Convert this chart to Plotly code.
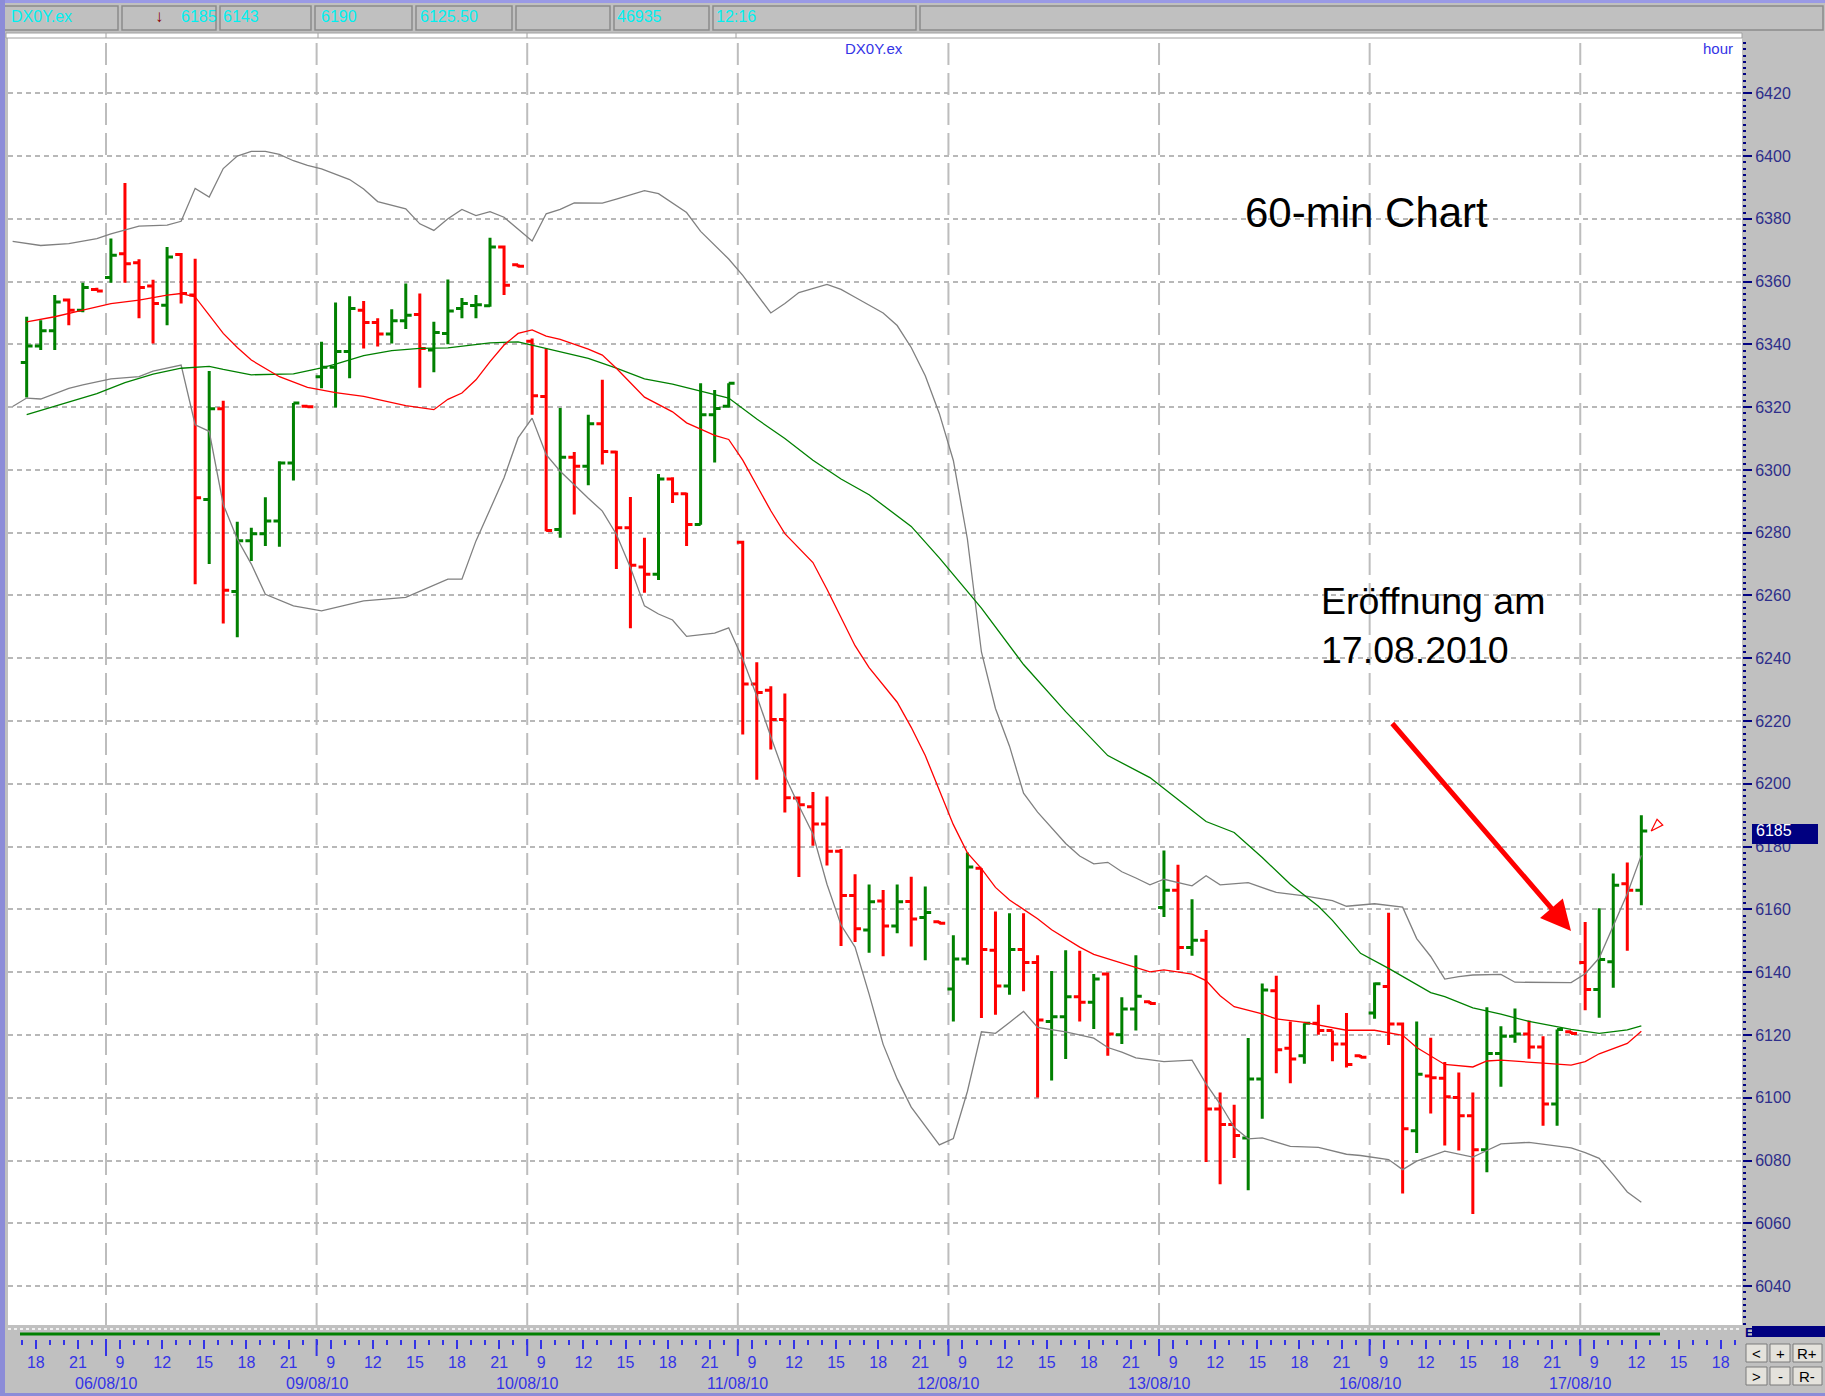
import plotly.graph_objects as go

# Hourly bars, index 0 = 05/08 17:00; each trading day holds 15 bars (8:00-22:00)
BAR_IDX = list(range(116))
OPEN = [6334.2, 6339.5, 6344.3, 6354.1, 6350.9, 6357.5, 6361.3, 6368.9, 6366.0, 6358.6,
        6352.5, 6368.6, 6355.7, 6290.6, 6319.5, 6261.3, 6277.4, 6279.7, 6283.7, 6302.2,
        6320.3, 6329.7, 6332.7, 6337.7, 6350.9, 6347.0, 6343.3, 6347.5, 6349.5, 6338.2,
        6343.5, 6351.4, 6352.4, 6352.3, 6371.0, 6365.4, 6341.0, 6323.4, 6281.0, 6304.0,
        6301.2, 6314.7, 6305.7, 6281.6, 6269.1, 6266.8, 6297.1, 6292.4, 6282.6, 6317.6,
        6320.3, 6277.0, 6231.8, 6229.8, 6220.5, 6195.5, 6192.7, 6187.2, 6178.5, 6164.4,
        6153.4, 6162.7, 6154.7, 6162.5, 6157.4, 6156.1, 6134.6, 6144.2, 6173.1, 6147.0,
        6135.6, 6147.2, 6143.1, 6124.3, 6125.8, 6132.2, 6130.4, 6139.4, 6120.1, 6128.3,
        6130.6, 6160.6, 6166.1, 6147.9, 6150.2, 6096.4, 6091.5, 6087.2, 6106.0, 6134.1,
        6115.8, 6113.4, 6123.7, 6121.4, 6117.1, 6113.4, 6127.0, 6135.4, 6123.5, 6089.5,
        6106.9, 6106.2, 6100.1, 6094.3, 6083.4, 6114.1, 6119.6, 6120.3, 6116.2, 6098.0,
        6121.0, 6143.1, 6134.5, 6143.3, 6168.2, 6166.1]
HIGH = [6348.8, 6347.7, 6355.7, 6354.6, 6359.6, 6358.0, 6373.7, 6391.4, 6367.1, 6360.6,
        6371.0, 6369.1, 6367.3, 6331.5, 6322.0, 6283.5, 6281.6, 6291.3, 6302.8, 6321.3,
        6320.5, 6340.8, 6353.3, 6355.3, 6353.8, 6348.3, 6351.2, 6359.4, 6356.2, 6347.2,
        6360.7, 6354.8, 6355.7, 6374.0, 6371.5, 6365.5, 6341.9, 6338.7, 6319.7, 6305.7,
        6317.6, 6328.7, 6306.1, 6291.4, 6278.4, 6298.7, 6297.7, 6292.7, 6327.6, 6325.5,
        6327.6, 6277.4, 6238.7, 6231.1, 6228.8, 6196.0, 6197.4, 6196.0, 6179.2, 6171.2,
        6167.9, 6166.2, 6167.9, 6170.4, 6167.3, 6156.3, 6151.8, 6178.1, 6173.1, 6159.3,
        6158.8, 6158.8, 6145.4, 6140.4, 6147.0, 6146.8, 6139.4, 6139.9, 6132.0, 6145.4,
        6130.8, 6178.8, 6174.2, 6163.2, 6153.4, 6101.7, 6097.8, 6119.0, 6136.4, 6138.9,
        6124.3, 6123.7, 6129.6, 6121.4, 6127.0, 6113.6, 6136.7, 6158.9, 6124.0, 6124.3,
        6119.1, 6111.4, 6108.0, 6101.7, 6128.8, 6122.8, 6128.4, 6124.6, 6119.6, 6121.7,
        6121.2, 6156.0, 6160.4, 6171.4, 6174.9, 6190.0]
LOW = [6323.1, 6338.2, 6338.2, 6346.1, 6350.2, 6357.0, 6359.6, 6359.6, 6348.3, 6340.3,
       6346.1, 6353.0, 6263.6, 6270.0, 6251.1, 6246.7, 6271.0, 6275.8, 6275.5, 6296.6,
       6319.8, 6326.0, 6319.9, 6329.2, 6338.7, 6339.3, 6340.3, 6344.9, 6326.2, 6331.1,
       6340.0, 6348.3, 6348.3, 6352.0, 6355.7, 6364.6, 6317.6, 6280.5, 6278.4, 6285.8,
       6295.1, 6301.7, 6268.4, 6249.6, 6260.9, 6264.9, 6289.5, 6275.8, 6282.5, 6302.4,
       6319.9, 6215.7, 6201.3, 6210.9, 6190.9, 6170.3, 6180.3, 6174.0, 6148.3, 6149.6,
       6146.2, 6145.1, 6152.4, 6148.2, 6143.8, 6155.4, 6124.3, 6142.4, 6125.4, 6126.4,
       6132.8, 6133.9, 6100.1, 6105.5, 6112.3, 6124.3, 6121.9, 6113.4, 6117.1, 6121.4,
       6129.8, 6157.6, 6140.7, 6145.2, 6079.5, 6072.4, 6080.8, 6070.5, 6093.3, 6107.8,
       6104.6, 6110.8, 6120.1, 6111.6, 6109.6, 6112.7, 6125.2, 6116.8, 6069.5, 6082.4,
       6095.0, 6084.8, 6083.2, 6063.0, 6076.3, 6103.5, 6117.5, 6112.4, 6091.1, 6091.1,
       6120.3, 6127.9, 6125.5, 6135.0, 6146.8, 6161.3]
CLOSE = [6339.5, 6344.3, 6353.5, 6350.9, 6358.1, 6357.0, 6368.4, 6365.7, 6358.1, 6353.0,
         6367.8, 6356.2, 6291.1, 6319.5, 6261.7, 6277.4, 6279.7, 6283.7, 6302.2, 6321.3,
         6320.1, 6332.7, 6337.7, 6351.4, 6347.0, 6343.3, 6347.5, 6349.3, 6338.7, 6343.8,
         6350.6, 6353.0, 6352.6, 6371.0, 6358.8, 6364.9, 6323.6, 6280.7, 6304.0, 6301.2,
         6314.7, 6305.9, 6281.6, 6269.6, 6266.8, 6297.1, 6292.4, 6282.6, 6317.6, 6319.6,
         6327.6, 6231.8, 6229.1, 6220.5, 6195.6, 6193.3, 6187.2, 6178.5, 6164.4, 6153.8,
         6162.4, 6154.7, 6162.4, 6156.9, 6159.0, 6155.6, 6144.2, 6173.5, 6147.2, 6135.6,
         6147.2, 6143.1, 6124.8, 6125.8, 6132.2, 6130.4, 6137.8, 6120.3, 6128.3, 6132.3,
         6130.0, 6166.1, 6147.9, 6150.2, 6096.4, 6091.5, 6088.0, 6106.0, 6134.3, 6115.3,
         6112.3, 6123.7, 6121.4, 6117.1, 6110.6, 6112.9, 6136.3, 6123.5, 6090.1, 6107.5,
         6106.4, 6100.3, 6094.3, 6083.4, 6114.1, 6119.6, 6120.3, 6116.2, 6098.0, 6121.7,
         6120.5, 6134.5, 6144.0, 6167.7, 6166.1, 6185.0]

# Bollinger bands (grey)
UPPER_X = [-1, 1, 3, 5, 6, 8, 10, 11, 12, 13, 14, 15, 16, 17, 18, 19, 20, 21, 23, 24,
           25, 27, 28, 29, 30, 31, 32, 33, 34, 35, 36, 37, 38, 39, 41, 42, 44, 45, 46, 47,
           48, 50, 51, 52, 53, 54, 55, 57, 58, 59, 61, 62, 63, 64, 65, 66, 67, 68, 69, 70,
           71, 72, 73, 74, 75, 76, 77, 78, 79, 80, 81, 83, 84, 85, 87, 89, 91, 93, 94, 96,
           98, 99, 100, 101, 102, 103, 105, 106, 110, 111, 112, 113, 114, 115]
UPPER_Y = [6372.8, 6371.5, 6372.1, 6373.7, 6375.2, 6377.7, 6378.0, 6379.2, 6389.7, 6386.9,
           6396.0, 6400.0, 6401.5, 6401.5, 6400.5, 6398.5, 6397.0, 6395.9, 6392.5, 6389.5,
           6385.5, 6383.2, 6378.4, 6376.3, 6380.0, 6383.0, 6381.0, 6382.3, 6380.5, 6376.6,
           6372.9, 6381.6, 6383.0, 6385.1, 6385.0, 6386.3, 6389.0, 6388.0, 6385.0, 6382.0,
           6376.0, 6367.2, 6362.0, 6356.0, 6350.0, 6353.0, 6356.5, 6359.1, 6357.5, 6355.0,
           6350.0, 6346.0, 6339.0, 6330.0, 6318.0, 6303.0, 6278.0, 6242.0, 6224.0, 6212.0,
           6197.0, 6191.0, 6186.0, 6181.0, 6177.0, 6174.5, 6175.0, 6172.0, 6170.0, 6167.8,
           6169.6, 6167.5, 6170.7, 6167.8, 6168.5, 6165.4, 6164.3, 6162.8, 6161.0, 6161.8,
           6160.7, 6150.7, 6145.0, 6137.8, 6138.6, 6139.1, 6139.3, 6136.8, 6136.7, 6139.5,
           6144.5, 6155.0, 6165.0, 6177.2]
LOWER_X = [-1, 0, 1, 3, 4, 6, 8, 9, 11, 12, 13, 14, 15, 16, 17, 19, 21, 22, 24, 27,
           28, 30, 31, 32, 33, 34, 35, 36, 37, 38, 40, 41, 42, 43, 44, 45, 46, 47, 49, 50,
           51, 52, 53, 54, 55, 56, 57, 58, 59, 60, 61, 62, 63, 64, 65, 66, 67, 68, 69, 70,
           71, 72, 74, 76, 77, 78, 79, 81, 83, 84, 85, 86, 87, 88, 90, 92, 94, 95, 97, 98,
           99, 101, 103, 104, 105, 107, 110, 111, 112, 113, 114, 115]
LOWER_Y = [6320.2, 6322.9, 6322.6, 6326.0, 6327.1, 6329.0, 6329.7, 6331.5, 6333.4, 6314.4,
           6312.3, 6289.0, 6278.0, 6270.0, 6260.4, 6256.7, 6255.1, 6256.2, 6258.3, 6259.4,
           6261.3, 6265.2, 6265.2, 6277.4, 6287.4, 6297.5, 6310.2, 6316.5, 6304.9, 6299.6,
           6291.0, 6286.9, 6279.5, 6268.9, 6256.7, 6254.1, 6252.2, 6247.0, 6248.0, 6249.7,
           6239.8, 6228.0, 6215.0, 6202.6, 6193.0, 6184.0, 6168.0, 6155.0, 6148.0, 6133.0,
           6117.0, 6106.0, 6097.0, 6091.0, 6085.0, 6087.0, 6102.0, 6121.0, 6120.5, 6124.0,
           6127.5, 6122.4, 6121.0, 6119.0, 6116.0, 6114.5, 6112.7, 6111.5, 6112.0, 6104.4,
           6098.0, 6090.6, 6086.9, 6087.2, 6084.5, 6084.2, 6082.0, 6081.6, 6080.3, 6077.1,
           6079.8, 6083.0, 6081.1, 6083.2, 6085.3, 6085.8, 6084.0, 6082.5, 6080.7, 6075.5,
           6070.0, 6066.7]

# Moving averages
RED_MA_X = [0, 2, 4, 6, 8, 10, 11, 12, 13, 14, 15, 16, 18, 20, 22, 24, 27, 29, 30, 31,
            32, 33, 34, 35, 36, 37, 38, 40, 41, 42, 44, 46, 47, 49, 50, 51, 53, 54, 56, 57,
            59, 60, 62, 63, 64, 65, 66, 67, 68, 69, 70, 71, 72, 73, 75, 76, 78, 80, 81, 83,
            84, 85, 86, 88, 89, 91, 94, 96, 98, 99, 101, 103, 104, 105, 108, 110, 111, 112,
            114, 115]
RED_MA_Y = [6347.2, 6348.8, 6350.9, 6353.0, 6354.1, 6355.7, 6356.2, 6355.1, 6349.3, 6343.5,
            6339.0, 6335.0, 6329.7, 6326.3, 6324.6, 6323.4, 6320.5, 6319.2, 6322.5, 6324.5,
            6328.7, 6334.5, 6339.8, 6343.5, 6344.6, 6342.6, 6341.6, 6338.5, 6336.6, 6332.4,
            6323.2, 6318.5, 6315.0, 6311.0, 6309.7, 6303.1, 6287.0, 6279.7, 6270.5, 6262.0,
            6244.0, 6237.0, 6226.0, 6218.0, 6209.0, 6198.0, 6187.0, 6178.0, 6173.0, 6167.0,
            6163.0, 6160.0, 6157.0, 6153.5, 6148.0, 6145.7, 6143.0, 6140.1, 6140.7, 6139.4,
            6137.3, 6132.5, 6129.0, 6126.7, 6125.1, 6124.0, 6121.5, 6121.5, 6119.9, 6116.0,
            6110.6, 6109.8, 6111.7, 6112.0, 6111.0, 6110.4, 6111.5, 6114.0, 6117.3, 6121.2]
GREEN_MA_X = [0, 2, 5, 7, 9, 11, 13, 14, 16, 19, 21, 22, 24, 26, 28, 30, 33, 35, 37, 40,
              42, 44, 46, 48, 50, 52, 54, 56, 58, 60, 63, 65, 68, 71, 74, 77, 80, 82, 84, 86,
              88, 90, 92, 93, 95, 97, 100, 101, 103, 105, 107, 110, 112, 114, 115]
GREEN_MA_Y = [6317.6, 6320.2, 6324.3, 6327.8, 6330.5, 6332.4, 6333.0, 6332.0, 6330.3, 6330.6,
              6332.5, 6333.7, 6336.4, 6338.0, 6338.7, 6338.9, 6340.5, 6340.8, 6338.7, 6335.5,
              6332.4, 6329.0, 6327.3, 6325.1, 6322.9, 6316.2, 6310.0, 6303.1, 6297.1, 6292.1,
              6282.0, 6272.0, 6256.0, 6238.0, 6223.0, 6209.0, 6202.0, 6195.0, 6188.0, 6184.5,
              6176.5, 6168.0, 6161.0, 6156.5, 6146.0, 6141.2, 6133.5, 6132.2, 6128.6, 6126.6,
              6124.3, 6121.8, 6120.5, 6121.6, 6122.9]

# Axis labels
DAYS = ["05/08/10", "06/08/10", "09/08/10", "10/08/10", "11/08/10",
        "12/08/10", "13/08/10", "16/08/10", "17/08/10"]
DAY_HOURS = [[18, 21]] + [[9, 12, 15, 18, 21]] * 7 + [[9, 12, 15, 18]]
HEADER = [("DX0Y.ex", 9), ("6185", 179), ("6143", 221), ("6190", 319),
          ("6125.50", 418), ("46935", 615), ("12:16", 714)]
LAST_PRICE = 6185

COLORS = {
    'up': '#008000',
    'down': '#ff0000',
    'band': '#808080',
    'grid': '#b8b8b8',
    'panel': '#c0c0c0',
    'axis_blue': '#3434e6',
    'navy': '#2e2e8a',
    'cyan': '#00f0f0',
}
FONT = "Liberation Sans Narrow, Liberation Sans, Arial, sans-serif"

W, H = 1825, 1396
PLOT_L, PLOT_R, PLOT_T, PLOT_B, PAPER_B = 8, 1742, 38, 1325, 1339
SHIFT = -0.35  # tick marks sit slightly left of the bar they belong to


def px(x):
    return (x - PLOT_L) / (PLOT_R - PLOT_L)


def py(y):
    return (PAPER_B - y) / (PAPER_B - PLOT_T)


tick_vals, tick_text = [], []
for d, hours in enumerate(DAY_HOURS):
    for h in hours:
        tick_vals.append(15 * d + h - 17 + SHIFT)
        tick_text.append(str(h))
separators = [15 * d - 9 + SHIFT for d in range(1, len(DAYS))]

fig = go.Figure()

for xs, ys, color in [(UPPER_X, UPPER_Y, COLORS['band']), (LOWER_X, LOWER_Y, COLORS['band']),
                      (GREEN_MA_X, GREEN_MA_Y, COLORS['up']), (RED_MA_X, RED_MA_Y, COLORS['down'])]:
    fig.add_trace(go.Scatter(x=xs, y=ys, mode='lines', line=dict(color=color, width=1.3),
                             hoverinfo='skip', showlegend=False))

fig.add_trace(go.Ohlc(
    x=BAR_IDX, open=OPEN, high=HIGH, low=LOW, close=CLOSE,
    increasing=dict(line=dict(color=COLORS['up'], width=3)),
    decreasing=dict(line=dict(color=COLORS['down'], width=3)),
    tickwidth=0.42, showlegend=False, hoverinfo='skip'
))

# small hollow arrow at the last bar
fig.add_trace(go.Scatter(
    x=[BAR_IDX[-1] + 0.7], y=[HIGH[-1] - 5], mode='markers', hoverinfo='skip', showlegend=False,
    marker=dict(symbol='arrow-open', angle=225, size=13, color=COLORS['down'],
                line=dict(color=COLORS['down'], width=1.2))
))

shapes = []
# day separators inside the chart and long ticks below it
for s in separators:
    shapes.append(dict(type='line', xref='x', yref='paper', x0=s, x1=s, y0=py(PLOT_B), y1=1,
                       line=dict(color='#bdbdbd', width=2, dash='22px,8px'), layer='below'))
    shapes.append(dict(type='line', xref='x', yref='paper', x0=s, x1=s, y0=0, y1=py(1356),
                       line=dict(color=COLORS['axis_blue'], width=2)))

# header strip
shapes.append(dict(type='rect', xref='paper', yref='paper', x0=px(0), x1=px(W), y0=py(3), y1=py(0),
                   fillcolor='#9a9ae6', line=dict(width=0), layer='below'))
cell_edges = [0, 120, 218, 313, 414, 514, 612, 711, 918, 1825]
for a, b in zip(cell_edges[:-1], cell_edges[1:]):
    shapes.append(dict(type='rect', xref='paper', yref='paper', x0=px(a + 2), x1=px(b - 2),
                       y0=py(30), y1=py(6), fillcolor=COLORS['panel'],
                       line=dict(color='#8a8a8a', width=1.5)))
shapes.append(dict(type='rect', xref='paper', yref='paper', x0=px(6), x1=px(PLOT_R), y0=py(PLOT_T),
                   y1=py(33), fillcolor='#ffffff', line=dict(color='#a0a0a0', width=1)))
for xs in [106, 318, 527, 736]:
    shapes.append(dict(type='line', xref='paper', yref='paper', x0=px(xs), x1=px(xs), y0=py(PLOT_T),
                       y1=py(33), line=dict(color='#a0a0a0', width=1)))

# borders
shapes.append(dict(type='rect', xref='paper', yref='paper', x0=px(0), x1=px(5), y0=py(H), y1=py(0),
                   fillcolor='#8c8cd8', line=dict(width=0)))
shapes.append(dict(type='rect', xref='paper', yref='paper', x0=px(0), x1=px(W), y0=py(H), y1=py(H - 3),
                   fillcolor='#8c8cd8', line=dict(width=0)))

# indicator strip under the chart
shapes.append(dict(type='line', xref='paper', yref='paper', x0=px(PLOT_L), x1=px(PLOT_R),
                   y0=py(1329), y1=py(1329), line=dict(color='#ffffff', width=1.5, dash='dot')))
shapes.append(dict(type='line', xref='paper', yref='paper', x0=px(20), x1=px(1660),
                   y0=py(1334), y1=py(1334), line=dict(color=COLORS['up'], width=3)))

# navy last-price boxes on the right
shapes.append(dict(type='rect', xref='paper', yref='paper', x0=px(1752), x1=px(1818),
                   y0=py(844), y1=py(824), fillcolor='#000080', line=dict(width=0)))
shapes.append(dict(type='rect', xref='paper', yref='paper', x0=px(1752), x1=px(1825),
                   y0=py(1337), y1=py(1326), fillcolor='#000080', line=dict(width=0)))

# scroll buttons bottom right
buttons = [("<", 1746, 1767, 1344, 1362), ("+", 1770, 1790, 1344, 1362), ("R+", 1793, 1822, 1344, 1362),
           (">", 1746, 1767, 1367, 1385), ("-", 1770, 1790, 1367, 1385), ("R-", 1793, 1822, 1367, 1385)]
for _, x0, x1, y0, y1 in buttons:
    shapes.append(dict(type='rect', xref='paper', yref='paper', x0=px(x0), x1=px(x1), y0=py(y1), y1=py(y0),
                       fillcolor='#e4e2dc', line=dict(color='#7a7a7a', width=1)))


def label(x, y, text, size, color, xanchor='center', family=FONT, **kw):
    return dict(x=x, y=y, xref='paper', yref='paper', text=text, showarrow=False,
                xanchor=xanchor, yanchor='middle', font=dict(family=family, size=size, color=color), **kw)


annotations = []
for day, s in zip(DAYS[1:], separators):
    annotations.append(dict(x=s, y=py(1383), xref='x', yref='paper', text=day, showarrow=False,
                            yanchor='middle',
                            font=dict(family=FONT, size=16, color=COLORS['axis_blue'])))
for text, x in HEADER:
    annotations.append(label(px(x), py(17), text, 16, COLORS['cyan'], xanchor='left'))
annotations.append(label(px(159), py(16), '<b>↓</b>', 17, '#8b0000'))
for text, x0, x1, y0, y1 in buttons:
    annotations.append(label(px((x0 + x1) / 2), py((y0 + y1) / 2), text, 15, '#000000'))
annotations += [
    label(px(874), py(49), 'DX0Y.ex', 15, COLORS['axis_blue']),
    label(px(1735), py(49), 'hour', 15, COLORS['axis_blue'], xanchor='right'),
    label(px(1743), py(1332), '<b>E</b>', 13, '#000080', xanchor='left'),
    dict(x=1, y=LAST_PRICE, xref='paper', yref='y', text=str(LAST_PRICE), showarrow=False,
         xanchor='left', yanchor='middle', xshift=12, font=dict(family=FONT, size=16, color='#ffffff')),
    label(px(1243), py(213), '60-min Chart', 42, '#000000', xanchor='left', family='Liberation Sans, Arial'),
    label(px(1319), py(625), 'Eröffnung am<br>17.08.2010', 37.5, '#000000', xanchor='left',
          family='Liberation Sans, Arial', align='left'),
    dict(x=px(1571), y=py(931), xref='paper', yref='paper', text='', showarrow=True,
         ax=-180, ay=-209, arrowcolor='#ff0000', arrowwidth=5, arrowhead=2, arrowsize=1.2),
]

fig.update_layout(
    width=W, height=H,
    margin=dict(l=PLOT_L, r=W - PLOT_R, t=PLOT_T, b=H - PAPER_B),
    paper_bgcolor=COLORS['panel'],
    plot_bgcolor='#ffffff',
    showlegend=False,
    shapes=shapes,
    annotations=annotations,
    xaxis=dict(
        range=[-1.33, 122.17], anchor='free', position=0,
        tickmode='array', tickvals=tick_vals, ticktext=tick_text,
        ticks='outside', ticklen=9, tickwidth=1.5, tickcolor=COLORS['axis_blue'],
        tickfont=dict(family=FONT, size=16, color=COLORS['axis_blue']),
        minor=dict(tickmode='linear', tick0=SHIFT, dtick=1, ticks='outside', ticklen=5,
                   tickwidth=1.5, tickcolor=COLORS['axis_blue']),
        showgrid=False, zeroline=False, showline=False,
        rangeslider=dict(visible=False),
    ),
    yaxis=dict(
        domain=[py(PLOT_B), 1], range=[6027.6, 6437.6], side='right',
        tick0=6040, dtick=20,
        ticks='outside', ticklen=9, tickwidth=2, tickcolor='#000080',
        tickfont=dict(family=FONT, size=16, color=COLORS['navy']),
        minor=dict(dtick=2, ticks='outside', ticklen=3, tickwidth=1.5, tickcolor='#000080'),
        showgrid=True, gridcolor=COLORS['grid'], gridwidth=1.5, griddash='5px,4px',
        zeroline=False, showline=False,
    ),
)

# the page body has a default margin; drop it so the figure fills the window from the corner
fig.write_html("out.html", config={'displayModeBar': False},
               post_script="document.body.style.margin='0';")
